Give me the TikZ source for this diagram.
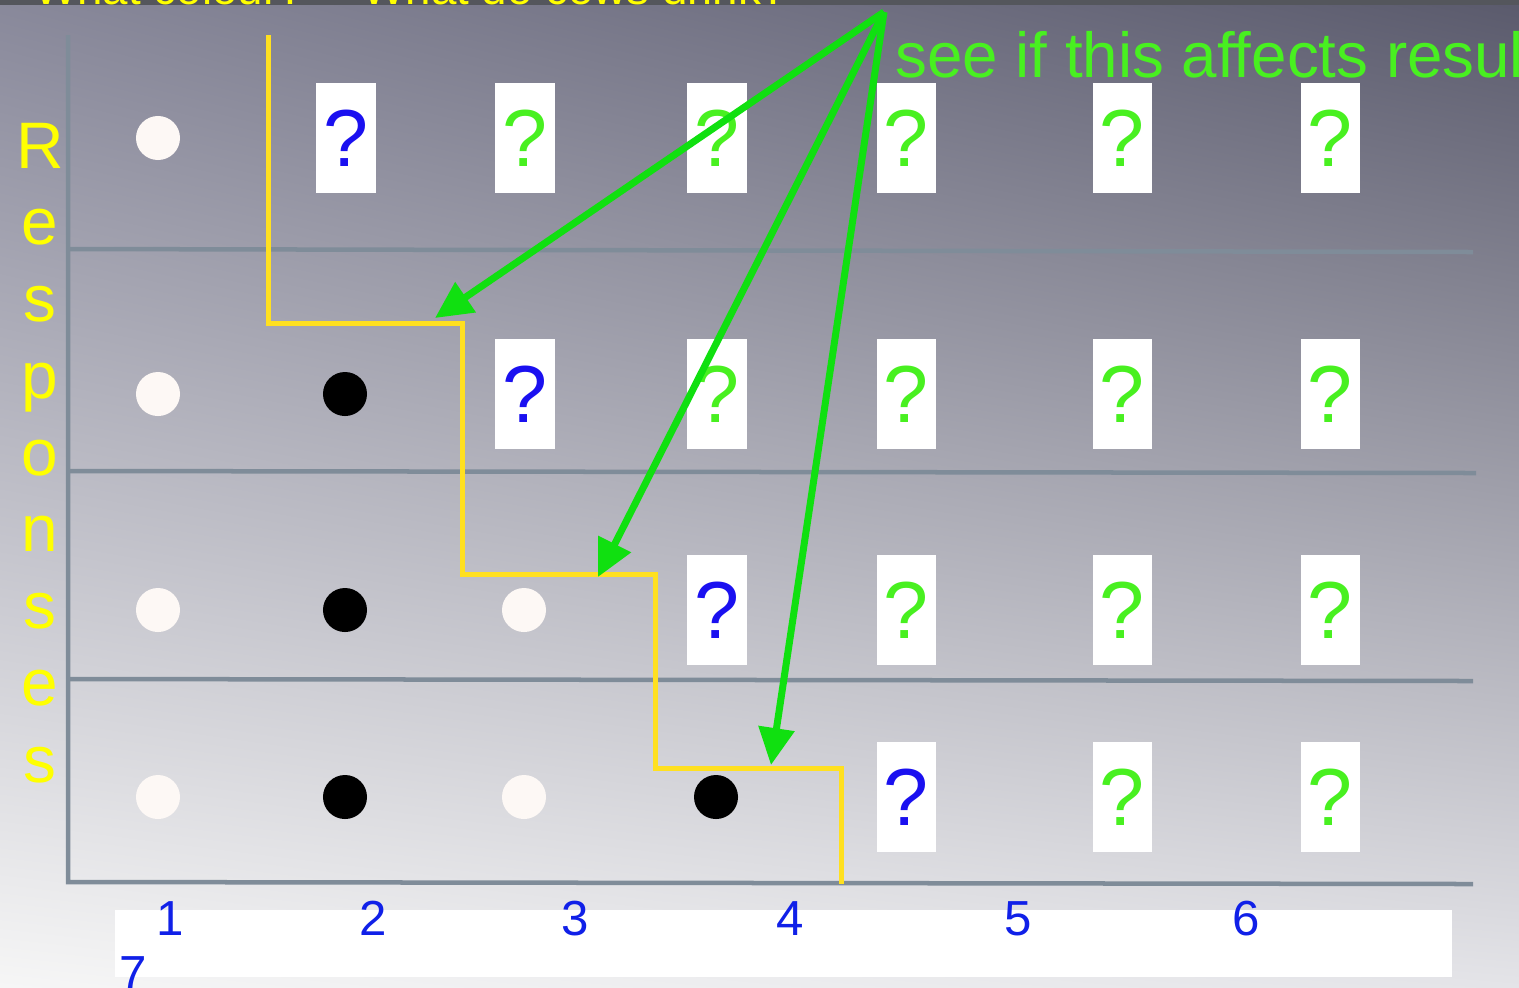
\documentclass[tikz,border=0pt]{standalone}
\usepackage{fontspec}
\setmainfont{Liberation Sans}
\usepackage{tikz}
\usetikzlibrary{arrows.meta}
\usetikzlibrary{shadings}
\definecolor{bandgray}{HTML}{54565C}
\definecolor{gridgray}{HTML}{7F8C99}
\definecolor{stairyel}{HTML}{FFE020}
\definecolor{labelyel}{HTML}{FFFF00}
\definecolor{arrgreen}{HTML}{10E010}
\definecolor{qgreen}{HTML}{48F020}
\definecolor{qblue}{HTML}{1A10F0}
\definecolor{numblue}{HTML}{1020E8}
\definecolor{dotwhite}{HTML}{FDF8F5}
\definecolor{bgul}{HTML}{88889A}
\definecolor{bgur}{HTML}{5A5A6C}
\definecolor{bgll}{HTML}{F6F6F6}
\definecolor{bglr}{HTML}{E4E4E8}
\tikzset{circw/.style = {fill=dotwhite, circle, inner sep = 0, minimum size = 0.44cm}}
\tikzset{circb/.style = {fill=black, circle, inner sep = 0, minimum size = 0.44cm}}
\tikzset{qbox/.style = {fill=white, inner sep = 0, minimum width = 0.59cm, minimum height = 1.1cm,
    font=\fontsize{23}{23}\selectfont}}
\tikzset{qnew/.style = {qbox, text=qblue}}
\tikzset{qold/.style = {qbox, text=qgreen}}
\tikzset{gridline/.style = {gridgray, line width = 0.045cm}}
\tikzset{stair/.style = {stairyel, line width = 0.05cm}}
\tikzset{pointer/.style = {arrgreen, line width = 0.07cm,
    -{Triangle[length=0.37cm, width=0.35cm]}}}
\tikzset{trialnum/.style = {anchor=base, text=numblue, font=\fontsize{14}{14}\selectfont}}

\begin{document}
\begin{tikzpicture}[x=0.01cm, y=-0.01cm]
    \useasboundingbox (0,0) rectangle (1519,987);
    \clip (0,0) rectangle (1519,987);
    \shade[upper left=bgul, upper right=bgur, lower left=bgll, lower right=bglr] (0,0) rectangle (1519,987);
    \fill[bandgray] (0,0) rectangle (1519,5);
    \node[anchor=base west, text=labelyel, font=\fontsize{13}{13}\selectfont] (ttla) at (22,4) {What colour?};
    \node[anchor=base west, text=labelyel, font=\fontsize{13}{13}\selectfont] (ttlb) at (350,4) {What do cows drink?};

    % grid
    \draw[gridline] (68,35) -- (68,882) -- (1473,884);
    \draw[gridline] (68,249) -- (1473,252);
    \draw[gridline] (68,471) -- (1476,473);
    \draw[gridline] (68,679) -- (1473,681);

    % staircase
    \draw[stair] (268,35) |- (462,323) |- (655,574) |- (841,768) -- (841,884);

    % row 1
    \node [circw] (d11) at (158,138) {};
    \node [qnew] (q12) at (346,138) {?};
    \node [qold] (q13) at (525,138) {?};
    \node [qold] (q14) at (717,138) {?};
    \node [qold] (q15) at (906,138) {?};
    \node [qold] (q16) at (1122,138) {?};
    \node [qold] (q17) at (1330,138) {?};
    % row 2
    \node [circw] (d21) at (158,394) {};
    \node [circb] (d22) at (345,394) {};
    \node [qnew] (q23) at (525,394) {?};
    \node [qold] (q24) at (717,394) {?};
    \node [qold] (q25) at (906,394) {?};
    \node [qold] (q26) at (1122,394) {?};
    \node [qold] (q27) at (1330,394) {?};
    % row 3
    \node [circw] (d31) at (158,610) {};
    \node [circb] (d32) at (345,610) {};
    \node [circw] (d33) at (524,610) {};
    \node [qnew] (q34) at (717,610) {?};
    \node [qold] (q35) at (906,610) {?};
    \node [qold] (q36) at (1122,610) {?};
    \node [qold] (q37) at (1330,610) {?};
    % row 4
    \node [circw] (d41) at (158,797) {};
    \node [circb] (d42) at (345,797) {};
    \node [circw] (d43) at (524,797) {};
    \node [circb] (d44) at (716,797) {};
    \node [qnew] (q45) at (906,797) {?};
    \node [qold] (q46) at (1122,797) {?};
    \node [qold] (q47) at (1330,797) {?};

    % axis labels
    \foreach \ch [count=\i from 0] in {R,e,s,p,o,n,s,e,s}
        \node [anchor=base, text=labelyel, font=\fontsize{18.7}{18.7}\selectfont] (resp\i) at (40,168+76.75*\i) {\ch};
    \fill[white] (115,910) rectangle (1452,977);
    \node [trialnum] (n1) at (170,935) {1};
    \node [trialnum] (n2) at (373,935) {2};
    \node [trialnum] (n3) at (575,935) {3};
    \node [trialnum] (n4) at (790,935) {4};
    \node [trialnum] (n5) at (1018,935) {5};
    \node [trialnum] (n6) at (1246,935) {6};
    \node [trialnum] (n7) at (133,990) {7};

    % arrows
    \node [anchor=base west, text=qgreen, font=\fontsize{18.1}{18.1}\selectfont] (note) at (883,77) {see if this affects results};
    \coordinate (src) at (884,12);
    \coordinate (hit1) at (435,318);
    \coordinate (hit2) at (598,577);
    \coordinate (hit3) at (771,765);
    \draw[pointer] (src) -- (hit1);
    \draw[pointer] (src) -- (hit2);
    \draw[pointer] (src) -- (hit3);
  \end{tikzpicture}
\end{document}
